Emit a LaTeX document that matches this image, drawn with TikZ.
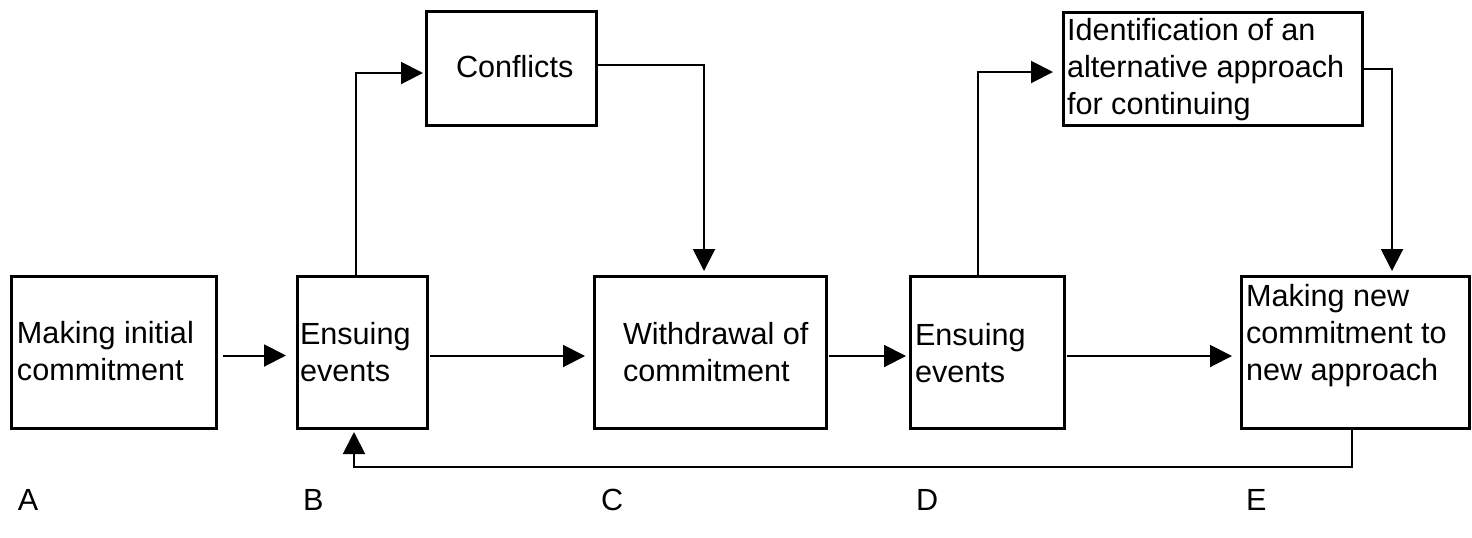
\documentclass[tikz,border=0pt]{standalone}
\usepackage{fontspec}
\setmainfont{Liberation Sans}
\usetikzlibrary{arrows.meta}
\begin{document}
\begin{tikzpicture}[x=0.5pt,y=-0.5pt,
  box/.style={draw, line width=1.5pt, inner sep=0pt, outer sep=0pt, anchor=north west},
  txt/.style={inner sep=0pt, outer sep=0pt, align=left, anchor=base west,
    font=\fontsize{15.3pt}{18.5pt}\selectfont},
  arr/.style={line width=1pt, -{Triangle[length=11pt,width=11pt]}},
  lbl/.style={inner sep=0pt, outer sep=0pt, anchor=base west,
    font=\fontsize{15.3pt}{18.5pt}\selectfont}]
\useasboundingbox (0,0) rectangle (1472,537);

% boxes
\node[box, minimum width=102.5pt, minimum height=76pt] (A)  at (11,276)   {};
\node[box, minimum width=65pt,    minimum height=76pt] (B)  at (297,276)  {};
\node[box, minimum width=116pt,   minimum height=76pt] (C)  at (594,276)  {};
\node[box, minimum width=77pt,    minimum height=76pt] (D)  at (910,276)  {};
\node[box, minimum width=114pt,   minimum height=76pt] (E)  at (1241,276) {};
\node[box, minimum width=85pt,    minimum height=57pt] (Cf) at (426,11)   {};
\node[box, minimum width=149.5pt, minimum height=56.5pt] (I) at (1063,12) {};

% box texts
\node[txt] (tA)  at (17,380)   {Making initial\\commitment};
\node[txt] (tB)  at (300,381)  {Ensuing\\events};
\node[txt] (tC)  at (623,381)  {Withdrawal of\\commitment};
\node[txt] (tD)  at (915,382)  {Ensuing\\events};
\node[txt] (tE)  at (1246,380) {Making new\\commitment to\\new approach};
\node[txt] (tCf) at (456,77)   {Conflicts};
\node[txt] (tI)  at (1067,114) {Identification of an\\alternative approach\\for continuing};

% stage letters
\node[lbl] (lA) at (18,510)   {A};
\node[lbl] (lB) at (303,510)  {B};
\node[lbl] (lC) at (601,510)  {C};
\node[lbl] (lD) at (916,510)  {D};
\node[lbl] (lE) at (1246,510) {E};

% main flow
\draw[arr] ([xshift=3.5pt,yshift=-1.75pt]A.east) -- ([xshift=-5.5pt,yshift=-1.75pt]B.west);
\draw[arr] ([xshift=1.5pt,yshift=-2pt]B.east) -- ([xshift=-4.5pt,yshift=-2pt]C.west);
\draw[arr] ([xshift=1.5pt,yshift=-2pt]C.east) -- ([xshift=-2pt,yshift=-2pt]D.west);
\draw[arr] ([xshift=1.5pt,yshift=-2pt]D.east) -- ([xshift=-4.5pt,yshift=-2pt]E.west);

% branches over the top
\draw[arr] ([xshift=-3pt]B.north) |- ([xshift=-1.5pt,yshift=-2.5pt]Cf.west);
\draw[arr] ([yshift=1.5pt]Cf.east) -| ([xshift=-3pt,yshift=2.5pt]C.north);
\draw[arr] ([xshift=-4.5pt]D.north) |- ([xshift=-5pt,yshift=-1.75pt]I.west);
\draw[arr] (I.east) -| ([xshift=18.5pt,yshift=2.5pt]E.north);

% feedback loop
\draw[arr] ([xshift=-1.5pt]E.south) -- ++(0,39) -| ([xshift=-4pt,yshift=-2pt]B.south);
\end{tikzpicture}
\end{document}
